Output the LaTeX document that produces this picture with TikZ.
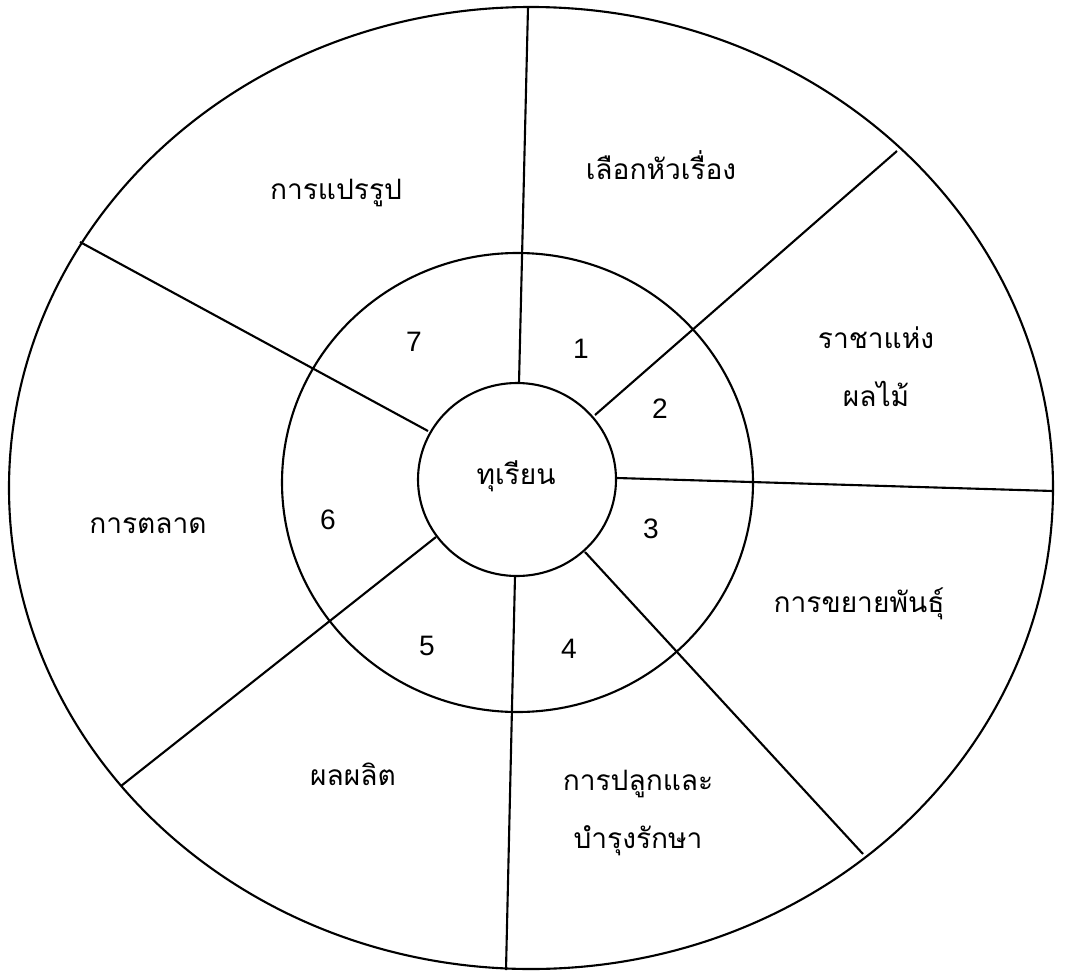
\documentclass[tikz,border=0pt]{standalone}
\usepackage{fontspec}
\setmainfont{Liberation Sans}
\newfontfamily\thaifont[Script=Thai]{Loma}
\begin{document}
\begin{tikzpicture}[x=0.2mm, y=-0.2mm, line width=1.2pt,
		etiquette/.style={font=\thaifont\fontsize{16}{33}\selectfont, align=center},
		numero/.style={font=\fontsize{16}{18}\selectfont}]
	\useasboundingbox (0,0) rectangle (1065,974);
	% Cercles
	\draw (531,488) ellipse [x radius=522, y radius=481];
	\draw (517.5,482.5) ellipse [x radius=235.5, y radius=229.5];
	\draw (517,479.5) ellipse [x radius=99, y radius=96.5];

	% Rayons
	\foreach \xa/\ya/\xb/\yb in {519/383/528/7, 595/415/897/151, 617/478/1053/491,
			585/552/863/854, 515/576/506/970, 436/537/121/786, 428/431/80/242}
	\draw (\xa,\ya) -- (\xb,\yb);

	% Numeros
	\foreach \n/\x/\y in {1/581/349, 2/660/409, 3/651/529, 4/569/649,
			5/427/646, 6/328/520, 7/414/342}
	\node[numero] (num\n) at (\x,\y) {\n};

	% Centre
	\node[etiquette] (durian) at (516,476) {ทุเรียน};

	% Etiquettes
	\node[etiquette] (sujet) at (661,165) {เลือกหัวเรื่อง};
	\node[etiquette] (roi) at (876,367) {ราชาแห่ง\\ผลไม้};
	\node[etiquette] (multiplication) at (859,604) {การขยายพันธุ์};
	\node[etiquette] (culture) at (638,813) {การปลูกและ\\บำรุงรักษา};
	\node[etiquette] (produit) at (353,774) {ผลผลิต};
	\node[etiquette] (marche) at (148,526) {การตลาด};
	\node[etiquette] (transformation) at (336,193) {การแปรรูป};
\end{tikzpicture}
\end{document}
